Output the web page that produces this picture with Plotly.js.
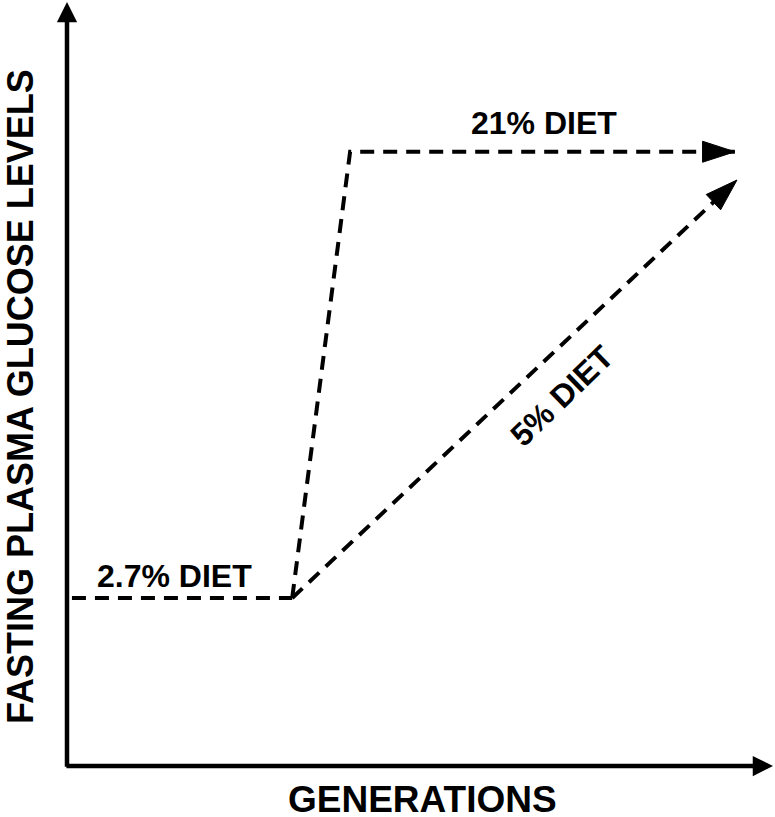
<!DOCTYPE html>
<html><head><meta charset="utf-8">
<script src="https://cdn.plot.ly/plotly-3.0.1.min.js"></script>
<style>html,body{margin:0;padding:0;background:#fff}#chart{width:775px;height:817px}</style>
</head><body><div id="chart"></div>
<script>
const xTitle = 'GENERATIONS';
const yTitle = 'FASTING PLASMA GLUCOSE LEVELS';
const seriesNames = ['2.7% DIET', '21% DIET', '5% DIET'];
const diet27X = [0.07, 3.19];
const diet27Y = [2.2, 2.2];
const diet21X = [3.19, 4.01, 9.46];
const diet21Y = [2.2, 8.04, 8.04];
const diet5X = [3.19, 9.49];
const diet5Y = [2.2, 7.67];

const FONT = 'Liberation Sans, Arial, sans-serif';
function series(xs, ys, name, arrow) {
  const sizes = xs.map((_, i) => (arrow && i === xs.length - 1) ? 34 : 0);
  return {
    x: xs, y: ys, name: name, type: 'scatter', mode: 'lines+markers',
    line: {color: '#000', width: 4, dash: '14px,9px'},
    marker: {symbol: 'arrow', angleref: 'previous', size: sizes, color: '#000', opacity: 1, line: {width: 1, color: '#000'}},
    opacity: 1,
    cliponaxis: false, hoverinfo: 'skip', showlegend: false
  };
}
const traces = [
  series(diet27X, diet27Y, seriesNames[0], false),
  series(diet21X, diet21Y, seriesNames[1], true),
  series(diet5X, diet5Y, seriesNames[2], true)
];
const lbl = (text, x, y, angle) => ({
  text: text, x: x, y: y, xref: 'x', yref: 'y', showarrow: false, textangle: angle,
  font: {family: FONT, size: 32, color: '#000', weight: 700}
});
const axisArrow = (x, y, ax, ay) => ({
  x: x, y: y, ax: ax, ay: ay, xref: 'x', yref: 'y', axref: 'x', ayref: 'y',
  text: '', showarrow: true, arrowhead: 2, arrowsize: 0.9, arrowwidth: 4.5, arrowcolor: '#000', standoff: 0, startstandoff: 0
});
const layout = {
  width: 775, height: 817,
  margin: {l: 67, r: 2, t: 2, b: 51},
  paper_bgcolor: '#fff', plot_bgcolor: '#fff',
  xaxis: {range: [0, 10], showgrid: false, zeroline: false, showticklabels: false, showline: false, ticks: '', fixedrange: true},
  yaxis: {range: [0, 10], showgrid: false, zeroline: false, showticklabels: false, showline: false, ticks: '', fixedrange: true},
  showlegend: false,
  annotations: [
    axisArrow(10, 0, -0.03, 0),
    axisArrow(0, 10, 0, -0.03),
    lbl(seriesNames[0], 1.52, 2.49, 0),
    lbl(seriesNames[1], 6.76, 8.42, 0),
    lbl(seriesNames[2], 7.01, 4.84, -44),
    {text: xTitle, x: 0.503, y: 0, xref: 'paper', yref: 'paper', yanchor: 'middle', yshift: -33, showarrow: false,
     font: {family: FONT, size: 37, color: '#000', weight: 700}},
    {text: yTitle, x: 0, y: 0.483, xref: 'paper', yref: 'paper', xanchor: 'center', xshift: -46, showarrow: false, textangle: -90,
     font: {family: FONT, size: 36, color: '#000', weight: 700}}
  ]
};
Plotly.newPlot('chart', traces, layout, {displayModeBar: false, staticPlot: true});
</script></body></html>
